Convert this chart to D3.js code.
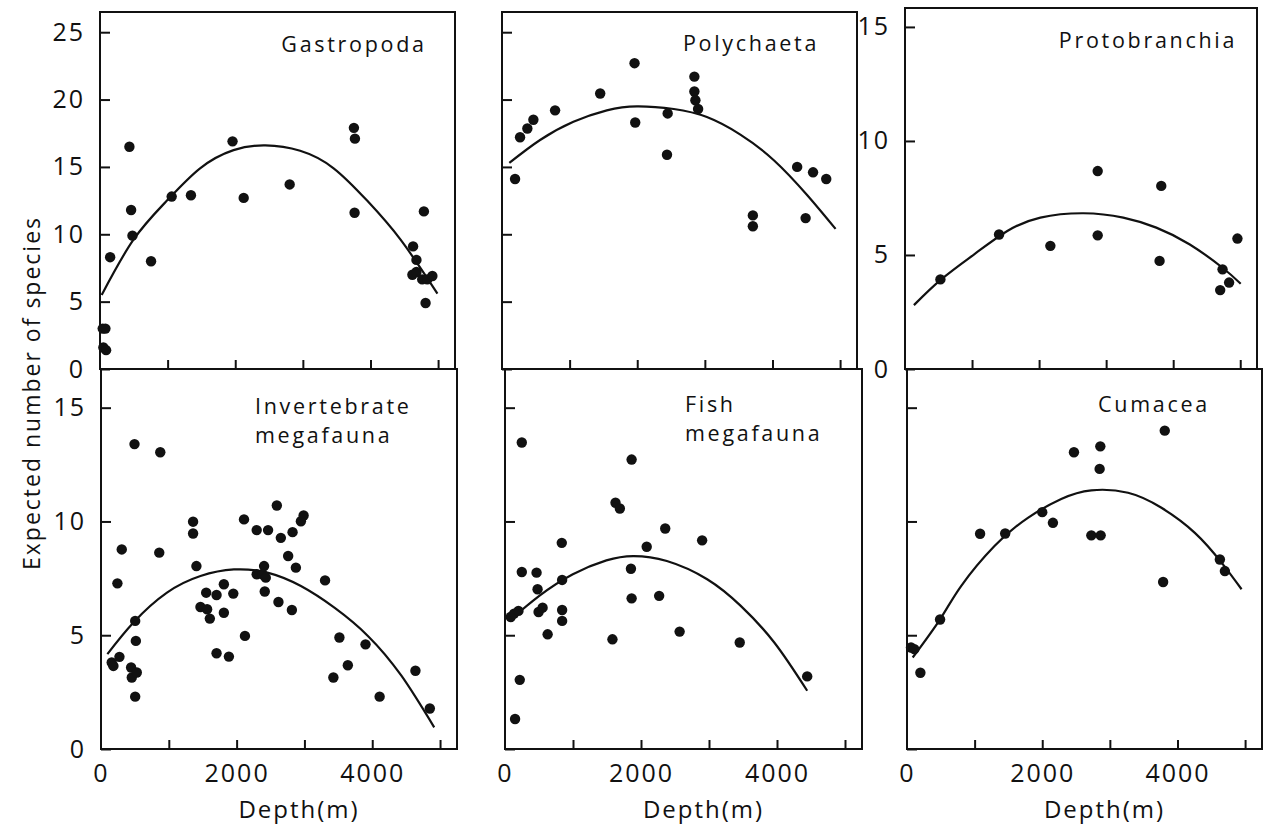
<!DOCTYPE html>
<html>
<head>
<meta charset="utf-8">
<script src="https://cdn.jsdelivr.net/npm/d3@7"></script>
<style>
  html, body { margin: 0; padding: 0; background: #fff; }
  svg text { font-family: "Open Sans", "DejaVu Sans", sans-serif; fill: #111; }
</style>
</head>
<body>
<div id="chart"></div>
<script>
// ---- data (depth in m, expected number of species) ----
const depthTicks = [1000, 2000, 3000, 4000, 5000];
const depthLabels = [0, 2000, 4000];
const ticksTopWide = [0, 5, 10, 15, 20, 25];
const ticksNarrow = [0, 5, 10, 15];

const gastroDepth = [40, 80, 50, 90, 150, 435, 460, 480, 755, 1060, 1345, 1960, 2125, 2805, 3755, 3770, 3765, 4630, 4680, 4620, 4680, 4790, 4765, 4840, 4915, 4815];
const gastroSpecies = [3.0, 3.0, 1.6, 1.4, 8.3, 16.5, 11.8, 9.9, 8.0, 12.8, 12.9, 16.9, 12.7, 13.7, 17.9, 17.1, 11.6, 9.1, 8.1, 7.0, 7.2, 11.7, 6.65, 6.65, 6.9, 4.9];
const gastroFitDepth = [25, 495, 990, 1480, 1975, 2445, 2960, 3455, 3950, 4445, 4990];
const gastroFitSpecies = [5.5, 9.6, 12.5, 14.9, 16.25, 16.6, 16.2, 14.9, 12.5, 9.6, 5.6];

const polyDepth = [193, 267, 375, 464, 785, 1452, 1960, 1970, 2450, 2440, 2845, 2845, 2860, 2900, 3710, 3710, 4365, 4600, 4795, 4490];
const polySpecies = [14.1, 17.2, 17.85, 18.5, 19.2, 20.45, 22.7, 18.3, 18.97, 15.9, 21.7, 20.6, 19.95, 19.3, 11.4, 10.6, 15.0, 14.6, 14.1, 11.2];
const polyFitDepth = [108, 563, 1056, 1550, 1995, 2540, 3030, 3525, 4020, 4515, 4933];
const polyFitSpecies = [15.3, 17.0, 18.35, 19.2, 19.5, 19.3, 18.7, 17.4, 15.5, 12.9, 10.4];

const protoDepth = [528, 1403, 2168, 2874, 2874, 3822, 3797, 4736, 4701, 4834, 4958];
const protoSpecies = [3.93, 5.9, 5.4, 8.68, 5.86, 8.03, 4.74, 4.37, 3.46, 3.79, 5.72];
const protoFitDepth = [133, 540, 1032, 1526, 2019, 2662, 3255, 3748, 4242, 4736, 5007];
const protoFitSpecies = [2.8, 3.93, 5.03, 6.05, 6.64, 6.83, 6.64, 6.2, 5.47, 4.44, 3.74];

const invDepth = [158, 183, 272, 242, 306, 494, 504, 514, 444, 454, 528, 504, 874, 859, 1358, 1358, 1407, 1467, 1551, 1565, 1605, 1704, 1704, 1812, 1812, 1886, 1951, 2109, 2123, 2296, 2296, 2380, 2405, 2430, 2415, 2464, 2593, 2652, 2617, 2760, 2825, 2815, 2874, 2948, 2988, 3304, 3516, 3427, 3640, 3901, 4109, 4637, 4849];
const invSpecies = [3.8, 3.65, 4.05, 7.28, 8.77, 13.4, 5.63, 4.75, 3.58, 3.14, 3.36, 2.3, 13.04, 8.63, 9.99, 9.47, 8.04, 6.24, 6.87, 6.14, 5.73, 6.77, 4.21, 7.24, 5.99, 4.06, 6.83, 10.09, 4.97, 9.62, 7.68, 7.68, 8.04, 7.53, 6.92, 9.62, 10.7, 9.28, 6.46, 8.48, 9.53, 6.11, 7.97, 10.01, 10.26, 7.41, 4.9, 3.14, 3.68, 4.6, 2.3, 3.44, 1.78];
const invFitDepth = [94, 479, 973, 1467, 1960, 2454, 2948, 3442, 3936, 4430, 4914];
const invFitSpecies = [4.17, 5.56, 6.87, 7.6, 7.89, 7.75, 7.16, 6.21, 4.97, 3.22, 0.95];

const fishDepth = [84, 133, 198, 247, 247, 217, 148, 464, 479, 494, 553, 627, 835, 840, 840, 840, 1580, 1625, 1689, 1862, 1852, 1862, 2084, 2267, 2356, 2568, 2899, 3452, 4444];
const fishSpecies = [5.8, 5.95, 6.07, 13.47, 7.78, 3.04, 1.32, 7.75, 7.02, 6.02, 6.21, 5.04, 9.06, 7.43, 6.11, 5.63, 4.82, 10.82, 10.57, 12.72, 7.92, 6.62, 8.89, 6.73, 9.69, 5.16, 9.17, 4.68, 3.19];
const fishFitDepth = [59, 504, 998, 1491, 1886, 2380, 2973, 3467, 3960, 4444];
const fishFitSpecies = [5.63, 6.73, 7.68, 8.29, 8.48, 8.26, 7.46, 6.29, 4.68, 2.56];

const cumaDepth = [59, 109, 198, 489, 1081, 1452, 2000, 2158, 2469, 2726, 2864, 2859, 2849, 3812, 3788, 4627, 4701];
const cumaSpecies = [4.46, 4.39, 3.35, 5.69, 9.46, 9.47, 10.41, 9.94, 13.04, 9.39, 9.39, 13.3, 12.31, 13.99, 7.34, 8.33, 7.82];
const cumaFitDepth = [84, 489, 800, 1294, 1788, 2281, 2726, 3269, 3763, 4257, 4652, 4948];
const cumaFitSpecies = [4.02, 5.7, 7.16, 8.92, 10.16, 10.99, 11.37, 11.26, 10.6, 9.5, 8.19, 7.02];

// ---- layout ----
const width = 1265, height = 824;

const panels = [
  { title: ["Gastropoda"], left: 100, w: 355, top: 12, bottom: 369, yMax: 26.5, yTicks: ticksTopWide, labels: true, xLabels: false,
    depth: gastroDepth, species: gastroSpecies, fitD: gastroFitDepth, fitS: gastroFitSpecies, tx: 354, ty: 52, anchor: "middle" },
  { title: ["Polychaeta"], left: 502, w: 355, top: 12, bottom: 369, yMax: 26.5, yTicks: ticksTopWide, labels: false, xLabels: false,
    depth: polyDepth, species: polySpecies, fitD: polyFitDepth, fitS: polyFitSpecies, tx: 751, ty: 51, anchor: "middle" },
  { title: ["Protobranchia"], left: 905, w: 352, top: 8, bottom: 369, yMax: 15.83, yTicks: ticksNarrow, labels: true, xLabels: false,
    depth: protoDepth, species: protoSpecies, fitD: protoFitDepth, fitS: protoFitSpecies, tx: 1148, ty: 48, anchor: "middle" },
  { title: ["Invertebrate", "megafauna"], left: 101, w: 356, top: 369, bottom: 749, yMax: 16.7, yTicks: ticksNarrow, labels: true, xLabels: true,
    depth: invDepth, species: invSpecies, fitD: invFitDepth, fitS: invFitSpecies, tx: 255, ty: 414, anchor: "start" },
  { title: ["Fish", "megafauna"], left: 505, w: 357, top: 369, bottom: 749, yMax: 16.7, yTicks: ticksNarrow, labels: false, xLabels: true,
    depth: fishDepth, species: fishSpecies, fitD: fishFitDepth, fitS: fishFitSpecies, tx: 685, ty: 412, anchor: "start" },
  { title: ["Cumacea"], left: 907, w: 355, top: 369, bottom: 749, yMax: 16.7, yTicks: ticksNarrow, labels: false, xLabels: true,
    depth: cumaDepth, species: cumaSpecies, fitD: cumaFitDepth, fitS: cumaFitSpecies, tx: 1098, ty: 412, anchor: "start" }
];

const svg = d3.select("#chart").append("svg")
  .attr("width", width)
  .attr("height", height);

svg.append("rect").attr("width", width).attr("height", height).attr("fill", "#fff");

panels.forEach(p => {
  const left = p.left;
  const x = d3.scaleLinear().domain([0, 5250]).range([left, left + p.w]);
  const y = d3.scaleLinear().domain([0, p.yMax]).range([p.bottom, p.top]);
  const g = svg.append("g");

  // y axis, ticks pointing inward
  const yAxis = d3.axisLeft(y)
    .tickValues(p.yTicks)
    .tickSizeInner(-10)
    .tickSizeOuter(0)
    .tickPadding(15)
    .tickFormat(p.labels ? d3.format("d") : "");
  g.append("g")
    .attr("transform", `translate(${left},0)`)
    .call(yAxis)
    .call(a => a.select(".domain").remove())
    .call(a => a.selectAll("line").attr("stroke", "#111").attr("stroke-width", 2))
    .call(a => a.selectAll("text").attr("font-size", 25).attr("letter-spacing", 2).attr("fill", "#111"));

  // x ticks, pointing inward
  g.append("g")
    .attr("transform", `translate(0,${p.bottom})`)
    .call(d3.axisBottom(x).tickValues(depthTicks).tickSizeInner(-9).tickSizeOuter(0).tickFormat(""))
    .call(a => a.select(".domain").remove())
    .call(a => a.selectAll("line").attr("stroke", "#111").attr("stroke-width", 2));

  if (p.xLabels) {
    g.append("g")
      .attr("transform", `translate(0,${p.bottom})`)
      .call(d3.axisBottom(x).tickValues(depthLabels).tickSize(0).tickPadding(15).tickFormat(d3.format("d")))
      .call(a => a.select(".domain").remove())
      .call(a => a.selectAll("text").attr("font-size", 25).attr("letter-spacing", 2).attr("fill", "#111"));

    g.append("text")
      .attr("x", left + p.w / 2 + 20)
      .attr("y", 818)
      .attr("text-anchor", "middle")
      .attr("font-size", 24)
      .attr("letter-spacing", 2)
      .text("Depth(m)");
  }

  // frame
  g.append("rect")
    .attr("x", left)
    .attr("y", p.top)
    .attr("width", p.w)
    .attr("height", p.bottom - p.top)
    .attr("fill", "none")
    .attr("stroke", "#111")
    .attr("stroke-width", 2);

  // fitted curve
  const fit = p.fitD.map((d, i) => [d, p.fitS[i]]);
  g.append("path")
    .datum(fit)
    .attr("fill", "none")
    .attr("stroke", "#111")
    .attr("stroke-width", 2.2)
    .attr("d", d3.line().x(d => x(d[0])).y(d => y(d[1])).curve(d3.curveNatural));

  // observations
  const pts = p.depth.map((d, i) => [d, p.species[i]]);
  g.selectAll("circle.obs")
    .data(pts)
    .enter().append("circle")
    .attr("class", "obs")
    .attr("cx", d => x(d[0]))
    .attr("cy", d => y(d[1]))
    .attr("r", 5.2)
    .attr("fill", "#111");

  // title, one text per line
  p.title.forEach((line, i) => {
    g.append("text")
      .attr("x", p.tx)
      .attr("y", p.ty + i * 29)
      .attr("text-anchor", p.anchor)
      .attr("font-size", 21.5)
      .attr("letter-spacing", 2.7)
      .text(line);
  });
});

// shared y axis title
svg.append("text")
  .attr("transform", "translate(40,393) rotate(-90)")
  .attr("text-anchor", "middle")
  .attr("font-size", 23)
  .attr("letter-spacing", 2)
  .text("Expected number of species");
</script>
</body>
</html>
